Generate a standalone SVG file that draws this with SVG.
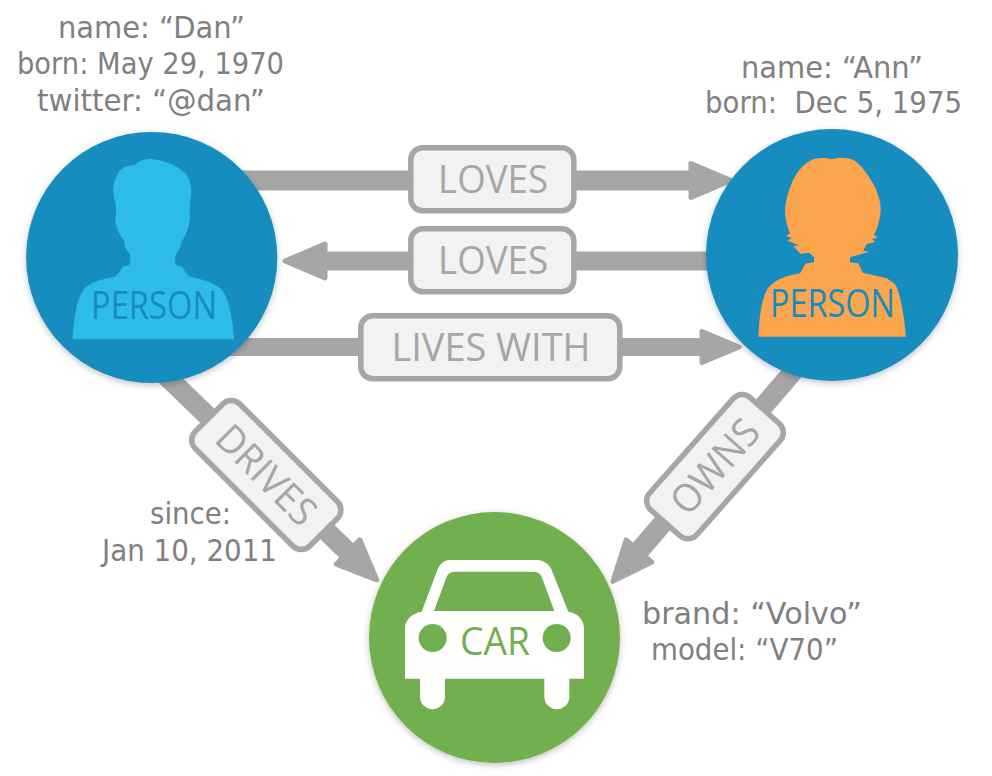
<svg xmlns="http://www.w3.org/2000/svg" width="992" height="776" viewBox="0 0 992 776">
<style>
.attr{font-family:"DejaVu Sans",sans-serif;font-size:30px;fill:#808080;white-space:pre}
.lbl{font-family:"Open Sans","Noto Sans",sans-serif;font-size:39px;fill:#a6a6a6;text-anchor:middle}
.name{font-family:"Open Sans","Noto Sans",sans-serif;font-size:38px;fill:#158cbf}
.box{fill:#f2f2f2;stroke:#a6a6a6;stroke-width:5.5}
.shaft{fill:none;stroke:#a6a6a6}
.circle{filter:url(#sh)}
</style>
<defs>
<filter id="sh" x="-10%" y="-10%" width="120%" height="120%"><feDropShadow dx="0" dy="2" stdDeviation="3" flood-color="#000" flood-opacity="0.25"/></filter>
<marker id="arrow" markerUnits="userSpaceOnUse" markerWidth="50" markerHeight="50" viewBox="0 0 50 50" refX="3" refY="25" orient="auto">
<path d="M3 8 L43 25 L3 42 Z" fill="#a6a6a6" stroke="#a6a6a6" stroke-width="5" stroke-linejoin="round"/>
</marker>
<marker id="arrow-s" markerUnits="userSpaceOnUse" markerWidth="50" markerHeight="50" viewBox="0 0 50 50" refX="3" refY="25" orient="auto">
<path d="M3 9.5 L40 25 L3 40.5 Z" fill="#a6a6a6" stroke="#a6a6a6" stroke-width="5" stroke-linejoin="round"/>
</marker>
</defs>
<rect width="992" height="776" fill="#fff"/>
<g id="connectors">
<line class="shaft" x1="220" y1="180.5" x2="691" y2="180.5" stroke-width="20" marker-end="url(#arrow)"/>
<line class="shaft" x1="750" y1="261" x2="325" y2="261" stroke-width="19" marker-end="url(#arrow)"/>
<line class="shaft" x1="220" y1="347" x2="702" y2="347" stroke-width="18" marker-end="url(#arrow-s)"/>
<line class="shaft" x1="160" y1="370" x2="348" y2="552" stroke-width="20" marker-end="url(#arrow)"/>
<line class="shaft" x1="798" y1="366" x2="639" y2="551" stroke-width="20" marker-end="url(#arrow)"/>
</g>
<g id="edge-labels">
<g id="label-loves-1"><rect class="box" x="410.8" y="147.8" width="163" height="63" rx="12"/><text class="lbl" x="493" y="192.5" textLength="110" lengthAdjust="spacingAndGlyphs">LOVES</text></g>
<g id="label-loves-2"><rect class="box" x="410.8" y="228.8" width="163" height="63" rx="12"/><text class="lbl" x="493" y="273.5" textLength="110" lengthAdjust="spacingAndGlyphs">LOVES</text></g>
<g id="label-lives-with"><rect class="box" x="360.8" y="315.8" width="259" height="63" rx="12"/><text class="lbl" x="491" y="360.7" textLength="199" lengthAdjust="spacingAndGlyphs">LIVES WITH</text></g>
<g id="label-drives" transform="translate(266.3 475) rotate(45)"><rect class="box" x="-81" y="-31.5" width="162" height="63" rx="12"/><text class="lbl" x="0" y="13.5" textLength="124" lengthAdjust="spacingAndGlyphs">DRIVES</text></g>
<g id="label-owns" transform="translate(715 466.7) rotate(-48.5)"><rect class="box" x="-75" y="-31.5" width="150" height="63" rx="12"/><text class="lbl" x="0" y="13.5" textLength="112" lengthAdjust="spacingAndGlyphs">OWNS</text></g>
</g>
<g id="node-dan">
<circle class="circle" cx="151.7" cy="257.5" r="125.6" fill="#158cbf"/>
<path transform="translate(0 120) scale(.3333)" fill="#2dbbe9" d="M218 658C222 600 228 540 250 510C265 488 300 478 345 470C358 462 362 445 370 440L388 435C392 420 392 408 388 400C378 390 372 375 372 362C358 345 346 320 346 295C350 280 348 270 348 255C342 235 338 215 340 200C345 175 355 150 375 140L405 135C415 122 435 116 455 117L485 122C510 130 540 140 560 165C572 185 575 200 573 225C570 250 568 265 570 290C568 320 558 345 545 365C540 385 535 395 527 405C524 420 526 430 530 436L548 442C555 455 560 465 570 470C610 478 650 490 668 512C690 545 698 600 702 658Z"/>
<text class="name" x="91" y="319" textLength="126" lengthAdjust="spacingAndGlyphs">PERSON</text>
<text class="attr" x="58" y="37.5" textLength="187" lengthAdjust="spacingAndGlyphs">name: “Dan”</text>
<text class="attr" x="17" y="74" textLength="267" lengthAdjust="spacingAndGlyphs">born: May 29, 1970</text>
<text class="attr" x="37" y="111" textLength="228" lengthAdjust="spacingAndGlyphs">twitter: “@dan”</text>
</g>
<g id="node-ann">
<circle class="circle" cx="832" cy="255" r="126" fill="#158cbf"/>
<path transform="translate(690 120) scale(.3333)" fill="#fca54f" d="M205 650C208 600 212 550 228 515C240 490 270 470 330 460C338 450 340 437 350 430L372 427L372 412L358 398L332 402L310 378L326 376L292 362L306 354L288 348L300 340C292 320 285 295 285 270C286 245 295 215 305 190C315 165 335 135 360 122C378 113 405 112 425 118C445 110 470 112 490 120C512 132 535 165 555 200C565 225 572 245 572 265C572 290 565 320 552 345L563 352L546 358L556 366L530 372L520 392L538 395L480 412L480 427L505 430L518 458L590 475C605 485 615 490 620 500C632 530 645 600 648 650Z"/>
<text class="name" x="770" y="317" textLength="125" lengthAdjust="spacingAndGlyphs">PERSON</text>
<text class="attr" x="741" y="77.7" textLength="182" lengthAdjust="spacingAndGlyphs">name: “Ann”</text>
<text class="attr" x="705" y="112.7" textLength="257" lengthAdjust="spacingAndGlyphs">born:  Dec 5, 1975</text>
</g>
<g id="node-car">
<circle class="circle" cx="494.5" cy="637.5" r="125.5" fill="#72af50"/>
<g transform="translate(360 520) scale(.3333)">
<path fill="#fff" fill-rule="evenodd" d="M270 120L530 120C552 120 568 133 575 150L625 275C655 280 672 300 672 325L672 476L628 476L628 530A37 37 0 0 1 553 530L553 476L255 476L255 530A37 37 0 0 1 180 530L180 476L135 476L135 325C135 300 155 280 185 275L232 150C240 133 250 120 270 120ZM222 273L583 273L545 170C540 160 532 155 520 155L285 155C272 155 265 160 260 170Z"/>
<circle cx="218" cy="354" r="42" fill="#72af50"/><circle cx="590" cy="354" r="42" fill="#72af50"/>
</g>
<text class="name" x="460" y="655" textLength="70" lengthAdjust="spacingAndGlyphs" style="fill:#72af50">CAR</text>
<text class="attr" x="642" y="624" textLength="220" lengthAdjust="spacingAndGlyphs">brand: “Volvo”</text>
<text class="attr" x="651" y="660" textLength="187" lengthAdjust="spacingAndGlyphs">model: “V70”</text>
</g>
<g id="edge-props">
<text class="attr" x="150" y="524" textLength="81" lengthAdjust="spacingAndGlyphs">since:</text>
<text class="attr" x="102" y="561" textLength="175" lengthAdjust="spacingAndGlyphs">Jan 10, 2011</text>
</g>
</svg>
